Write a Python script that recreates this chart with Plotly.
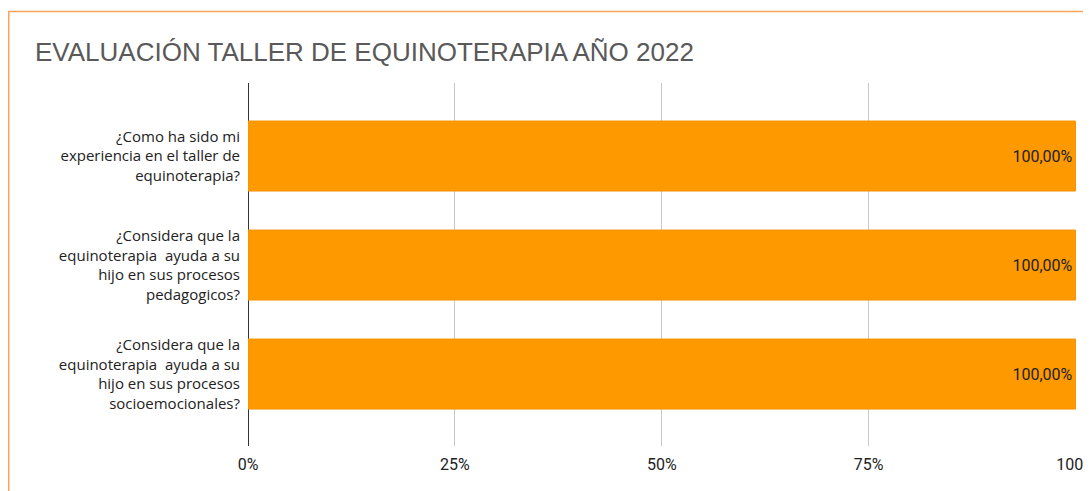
import plotly.graph_objects as go

categories = [
    "¿Como ha sido mi<br>experiencia en el taller de<br>equinoterapia?",
    "¿Considera que la<br>equinoterapia  ayuda a su<br>hijo en sus procesos<br>pedagogicos?",
    "¿Considera que la<br>equinoterapia  ayuda a su<br>hijo en sus procesos<br>socioemocionales?",
]
values = [1.0, 1.0, 1.0]
value_labels = ["100,00%", "100,00%", "100,00%"]
tick_vals = [0, 0.25, 0.5, 0.75, 1.0]
tick_text = ["0%", "25%", "50%", "75%", "100%"]
title_text = "EVALUACIÓN TALLER DE EQUINOTERAPIA AÑO 2022"

# plot area in figure pixels (page is offset by the 8px body margin)
L, R, T, B = 240, 1068, 75, 438
W, H = R - L, B - T

fig = go.Figure(go.Bar(
    x=values,
    y=categories,
    orientation="h",
    marker=dict(color="#FF9900", line=dict(color="#F39200", width=1)),
    text=value_labels,
    textposition="inside",
    insidetextanchor="end",
    textfont=dict(family="Roboto", size=16, color="#222222"),
    cliponaxis=False,
))

fig.update_layout(
    width=1091, height=491,
    margin=dict(l=L, r=1091 - R, t=T, b=491 - B, autoexpand=False),
    paper_bgcolor="white", plot_bgcolor="white",
    bargap=0.358,
    showlegend=False,
    title=dict(text=title_text, x=27/1091, xanchor="left", y=1-44/491, yanchor="middle",
               font=dict(family="Liberation Sans", size=26, color="#595959")),
    font=dict(family="Open Sans", size=15, color="#222222"),
    shapes=[dict(type="rect", xref="paper", yref="paper",
                 x0=(0.75 - L)/W, x1=(1300 - L)/W,
                 y0=(B - 900)/H, y1=(B - 3.5)/H,
                 line=dict(color="#F8A55A", width=1.5),
                 fillcolor="rgba(0,0,0,0)", layer="below")],
)
fig.update_xaxes(
    range=[0, 1.0005], tickvals=tick_vals, ticktext=tick_text,
    showgrid=True, gridcolor="#c8c8c8", gridwidth=1,
    zeroline=True, zerolinecolor="#333333", zerolinewidth=1,
    ticks="outside", ticklen=4, tickcolor="rgba(0,0,0,0)",
    tickfont=dict(family="Roboto", size=16, color="#222222"),
    fixedrange=True, automargin=False,
)
fig.update_yaxes(
    range=[2.66, -0.67], showgrid=False, zeroline=False,
    ticks="outside", ticklen=4, tickcolor="rgba(0,0,0,0)",
    tickfont=dict(family="Open Sans", size=15, color="#222222"),
    automargin=False,
)
fig.write_html("out.html")
